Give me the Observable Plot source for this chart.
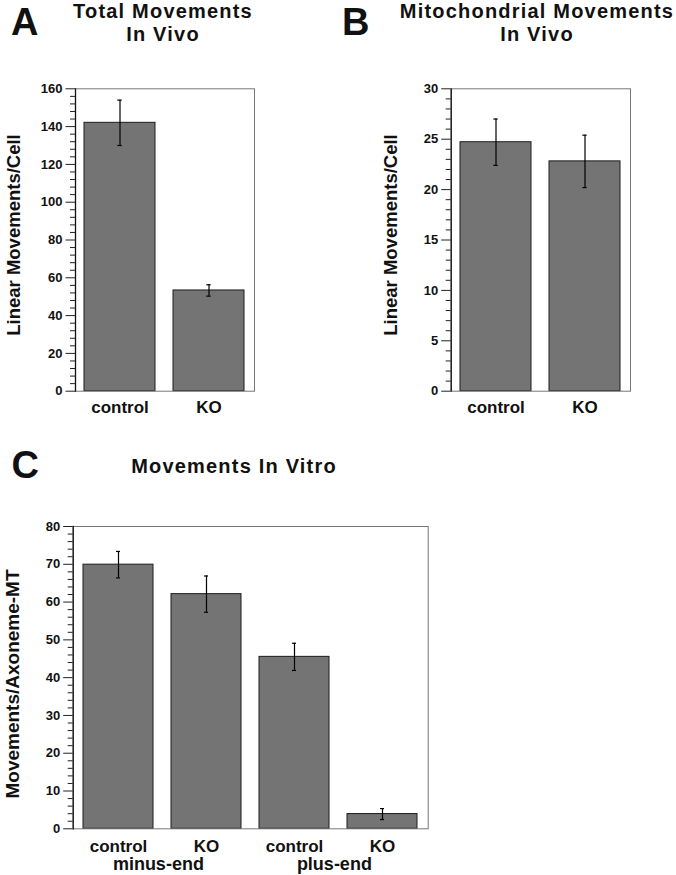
<!DOCTYPE html>
<html>
<head>
<meta charset="utf-8">
<script src="https://cdn.jsdelivr.net/npm/d3@7"></script>
<script src="https://cdn.jsdelivr.net/npm/@observablehq/plot@0.6"></script>
<style>
  body { margin: 0; background: #fff; font-family: "Liberation Sans", Arial, Helvetica, sans-serif; color: #111; }
  #root { position: relative; width: 676px; height: 875px; overflow: hidden; }
  .abs { position: absolute; }
  .letter { font-weight: bold; font-size: 38px; line-height: 38px; }
  .title { font-weight: bold; font-size: 20px; letter-spacing: 1.2px; text-align: center; line-height: 23px; white-space: nowrap; width: 400px; }
  .ylab { font-weight: bold; white-space: nowrap; line-height: normal; transform: translate(-50%, -50%) rotate(-90deg); }
</style>
</head>
<body>
<div id="root"></div>
<script>
// ---------- data ----------
const catsA = ["control", "KO"];
const totalMean = [142, 53.3];
const totalErr = [12, 3];
const ticksA = [0, 20, 40, 60, 80, 100, 120, 140, 160];

const catsB = ["control", "KO"];
const mitoMean = [24.7, 22.8];
const mitoErr = [2.3, 2.6];
const ticksB = [0, 5, 10, 15, 20, 25, 30];

const catsC = ["control", "KO", "control", "KO"];
const groupsC = ["minus-end", "minus-end", "plus-end", "plus-end"];
const vitroMean = [69.9, 62.1, 45.5, 3.9];
const vitroErr = [3.5, 4.8, 3.6, 1.45];
const ticksC = [0, 10, 20, 30, 40, 50, 60, 70, 80];

const titleA = ["Total Movements", "In Vivo"];
const titleB = ["Mitochondrial Movements", "In Vivo"];
const titleC = ["Movements In Vitro"];
const ylabA = "Linear Movements/Cell";
const ylabB = "Linear Movements/Cell";
const ylabC = "Movements/Axoneme-MT";

// ---------- helpers ----------
const fontFam = '"Liberation Sans", Arial, Helvetica, sans-serif';
const root = document.getElementById("root");

function minorTicks(major, n) {
  const out = [];
  for (let i = 0; i < major.length - 1; i++) {
    const s = (major[i + 1] - major[i]) / n;
    for (let j = 1; j < n; j++) out.push(major[i] + j * s);
  }
  return out;
}

function panel(cfg) {
  const {cats, groups, means, errs, major, width, height, mt, mr, mb, ml, xPad, left, top} = cfg;
  const keys = cats.map((c, i) => (groups ? groups[i] + "|" : "") + c + "|" + i);
  const catOf = Object.fromEntries(keys.map((k, i) => [k, cats[i]]));
  const rows = keys.map((k, i) => ({key: k, mean: means[i], lo: means[i] - errs[i], hi: means[i] + errs[i]}));
  const pi = 0.2, po = 0.1;
  const step = (width - ml - mr) / (keys.length - pi + 2 * po);
  const bw = step * (1 - pi);
  const capHalf = 2.5;
  const inset = bw / 2 - capHalf;
  const marks = [
    Plot.barY(rows, {x: "key", y: "mean", fill: "#747474", stroke: "#1c1c1c", strokeWidth: 1}),
    Plot.ruleX(rows, {x: "key", y1: "lo", y2: "hi", stroke: "#000", strokeWidth: 1.2}),
    Plot.tickY(rows, {x: "key", y: "hi", insetLeft: inset, insetRight: inset, stroke: "#000", strokeWidth: 1.2}),
    Plot.tickY(rows, {x: "key", y: "lo", insetLeft: inset, insetRight: inset, stroke: "#000", strokeWidth: 1.2}),
    Plot.frame({stroke: "#777", strokeWidth: 1}),
    Plot.frame({anchor: "left", stroke: "#111", strokeWidth: 1.3}),
    Plot.axisY({ticks: minorTicks(major, cfg.minorN), tickSize: 5, tickFormat: () => "", label: null, stroke: "#222"}),
    Plot.axisY({ticks: major, tickSize: 9.5, tickPadding: 3.5, label: null, fontSize: 13, fontWeight: "bold", stroke: "#222"}),
    Plot.axisX({tickSize: 0, tickPadding: xPad, tickFormat: k => catOf[k], label: null, fontSize: 17, fontWeight: "bold"})
  ];
  if (groups) {
    const gRows = [];
    groups.forEach((g, i) => { if (!gRows.find(r => r.label === g)) gRows.push({label: g, first: keys[i]}); });
    marks.push(Plot.text(gRows, {x: "first", text: "label", frameAnchor: "bottom", dx: step / 2 - 4.5, dy: cfg.groupDy, fontSize: 18, fontWeight: "bold", fill: "#111"}));
  }
  const svg = Plot.plot({
    width, height,
    marginTop: mt, marginRight: mr, marginBottom: mb, marginLeft: ml,
    x: {domain: keys, paddingInner: pi, paddingOuter: po, align: 0.5, axis: null},
    y: {domain: [0, major[major.length - 1]], axis: null},
    style: {fontFamily: fontFam, fontWeight: "bold", color: "#111", background: "transparent", overflow: "visible"},
    marks
  });
  svg.classList.add("abs");
  svg.style.left = left + "px";
  svg.style.top = top + "px";
  root.appendChild(svg);
}

function addDiv(cls, html, style) {
  const d = document.createElement("div");
  d.className = "abs " + cls;
  d.innerHTML = html;
  Object.assign(d.style, style);
  root.appendChild(d);
  return d;
}

// ---------- panels ----------
panel({cats: catsA, means: totalMean, errs: totalErr, major: ticksA, minorN: 5,
  width: 270, height: 360, mt: 18.3, mr: 16, mb: 39.3, ml: 75, xPad: 9.5, left: 0, top: 70});
panel({cats: catsB, means: mitoMean, errs: mitoErr, major: ticksB, minorN: 5,
  width: 270, height: 360, mt: 18.3, mr: 16, mb: 39.3, ml: 74.7, xPad: 9.5, left: 376, top: 70});
panel({cats: catsC, groups: groupsC, means: vitroMean, errs: vitroErr, major: ticksC, minorN: 5,
  width: 450, height: 370, mt: 21, mr: 22.3, mb: 46.7, ml: 72.7, xPad: 11.3, groupDy: 41.5, left: 0, top: 505});

// ---------- text ----------
addDiv("letter", "A", {left: "11px", top: "2.8px"});
addDiv("letter", "B", {left: "342px", top: "2.8px"});
addDiv("letter", "C", {left: "11.5px", top: "445.5px"});

addDiv("title", titleA.join("<br>"), {left: (163 - 200) + "px", top: "0px"});
addDiv("title", titleB.join("<br>"), {left: (537 - 200) + "px", top: "0px"});
addDiv("title", titleC.join("<br>"), {left: (234 - 200) + "px", top: "454.6px"});

addDiv("ylab", ylabA, {left: "13.5px", top: "235px", fontSize: "18.5px"});
addDiv("ylab", ylabB, {left: "391px", top: "235px", fontSize: "18.5px"});
addDiv("ylab", ylabC, {left: "12.5px", top: "684px", fontSize: "19px"});
</script>
</body>
</html>
